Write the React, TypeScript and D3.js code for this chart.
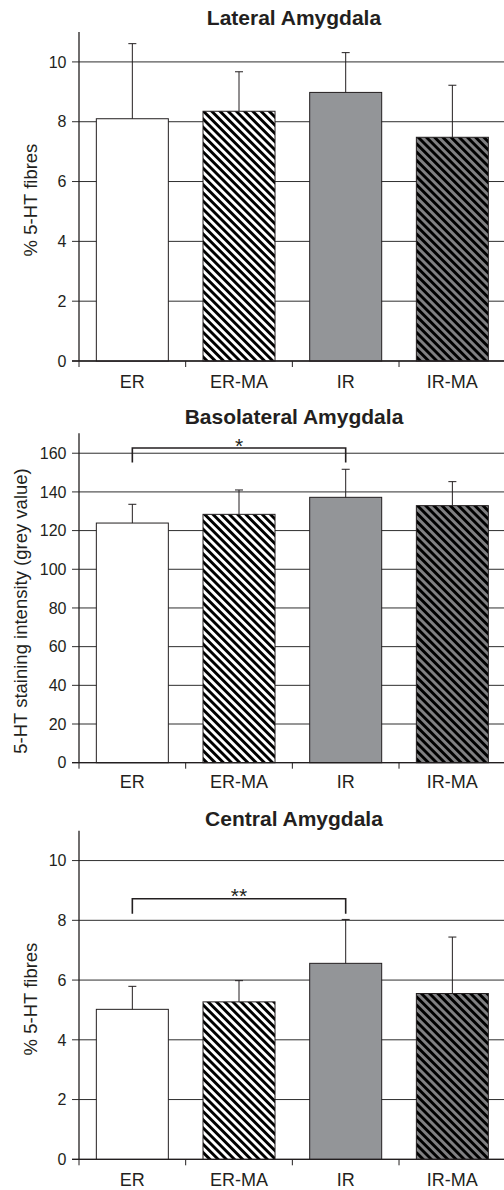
import React from "react";
import * as d3 from "d3";

const categories = ["ER", "ER-MA", "IR", "IR-MA"];

const lateralMeans = [8.1, 8.35, 8.98, 7.48];
const lateralErrTops = [10.61, 9.67, 10.31, 9.22];

const basolateralMeans = [123.9, 128.4, 137.2, 132.9];
const basolateralErrTops = [133.6, 141.0, 151.7, 145.3];

const centralMeans = [5.02, 5.27, 6.56, 5.55];
const centralErrTops = [5.79, 5.98, 8.03, 7.44];

const fibreTicks = [0, 2, 4, 6, 8, 10];
const intensityTicks = [0, 20, 40, 60, 80, 100, 120, 140, 160];

// significance brackets
const basolateralBracket = { from: 0, to: 2, top: 162.7, leg: 155.2, label: "*" };
const centralBracket = { from: 0, to: 2, top: 8.72, leg: 8.22, label: "**" };

const INK = "#231f20";
const GRID = "#2e2e2e";
const FONT = "'Liberation Sans', Arial, Helvetica, sans-serif";

const fills = ["#ffffff", "url(#hatchBW)", "#939598", "url(#hatchGray)"];

type Bracket = { from: number; to: number; top: number; leg: number; label: string };

type PanelProps = {
  title: string;
  titleY: number;
  yMax: number;
  yTop: number;
  yZero: number;
  ticks: number[];
  means: number[];
  errTops: number[];
  yLabel: string;
  yLabelX: number;
  yLabelY: number;
  catLabelY: number;
  bracket?: Bracket;
};

const X0 = 79;
const X1 = 505.7;

function Panel(p: PanelProps) {
  const x = d3
    .scaleBand<string>()
    .domain(categories)
    .range([X0, X1])
    .paddingInner(0.325)
    .paddingOuter(0.1625);
  const y = d3.scaleLinear().domain([0, p.yMax]).range([p.yZero, p.yTop]);
  const step = x.step();
  const bw = x.bandwidth();
  const cx = (c: string) => (x(c) as number) + bw / 2;
  const boundaries = d3.range(categories.length + 1).map((i) => X0 + i * step);

  return (
    <g>
      <text
        x={294}
        y={p.titleY}
        textAnchor="middle"
        fontFamily={FONT}
        fontWeight="bold"
        fontSize={21}
        fill={INK}
      >
        {p.title}
      </text>
      {p.ticks.map((t) => (
        <g key={t}>
          <line x1={72} x2={X1} y1={y(t)} y2={y(t)} stroke={GRID} strokeWidth={1} />
          <text
            x={66.5}
            y={y(t)}
            dy="0.36em"
            textAnchor="end"
            fontFamily={FONT}
            fontSize={16}
            fill={INK}
          >
            {t}
          </text>
        </g>
      ))}
      <line x1={X0} x2={X0} y1={p.yTop} y2={p.yZero} stroke={INK} strokeWidth={1.3} />
      {categories.map((c, i) => (
        <rect
          key={c}
          x={x(c)}
          y={y(p.means[i])}
          width={bw}
          height={y(0) - y(p.means[i])}
          fill={fills[i]}
          stroke={INK}
          strokeWidth={1}
        />
      ))}
      {categories.map((c, i) => (
        <g key={c + "e"} stroke={INK} strokeWidth={1}>
          <line x1={cx(c)} x2={cx(c)} y1={y(p.means[i])} y2={y(p.errTops[i])} />
          <line x1={cx(c) - 4} x2={cx(c) + 4} y1={y(p.errTops[i])} y2={y(p.errTops[i])} />
        </g>
      ))}
      <line x1={72} x2={X1} y1={p.yZero} y2={p.yZero} stroke={INK} strokeWidth={1.3} />
      {boundaries.map((b, i) => (
        <line key={i} x1={b} x2={b} y1={p.yZero} y2={p.yZero + 6} stroke={INK} strokeWidth={1} />
      ))}
      {categories.map((c) => (
        <text
          key={c + "l"}
          x={cx(c)}
          y={p.catLabelY}
          textAnchor="middle"
          fontFamily={FONT}
          fontSize={18}
          fill={INK}
        >
          {c}
        </text>
      ))}
      <text
        transform={`translate(${p.yLabelX},${p.yLabelY}) rotate(-90)`}
        textAnchor="middle"
        dy="0.36em"
        fontFamily={FONT}
        fontSize={18.5}
        fill={INK}
      >
        {p.yLabel}
      </text>
      {p.bracket && (
        <g>
          <path
            d={`M${cx(categories[p.bracket.from])},${y(p.bracket.leg)}V${y(p.bracket.top)}H${cx(
              categories[p.bracket.to]
            )}V${y(p.bracket.leg)}`}
            fill="none"
            stroke={INK}
            strokeWidth={1.6}
          />
          <text
            x={(cx(categories[p.bracket.from]) + cx(categories[p.bracket.to])) / 2}
            y={y(p.bracket.top) + 4.5}
            textAnchor="middle"
            fontFamily={FONT}
            fontSize={21}
            fill={INK}
          >
            {p.bracket.label}
          </text>
        </g>
      )}
    </g>
  );
}

export default function App() {
  return (
    <svg
      width={504}
      height={1190}
      style={{ position: "absolute", left: 0, top: 0, background: "#fff" }}
    >
      <defs>
        <pattern
          id="hatchBW"
          patternUnits="userSpaceOnUse"
          width={5.8}
          height={5.8}
          patternTransform="rotate(-45)"
        >
          <rect width={5.8} height={5.8} fill="#fff" />
          <rect width={2.9} height={5.8} fill="#000" />
        </pattern>
        <pattern
          id="hatchGray"
          patternUnits="userSpaceOnUse"
          width={5.8}
          height={5.8}
          patternTransform="rotate(-45)"
        >
          <rect width={5.8} height={5.8} fill="#808082" />
          <rect width={2.9} height={5.8} fill="#000" />
        </pattern>
      </defs>
      <rect width={504} height={1190} fill="#fff" />
      <Panel
        title="Lateral Amygdala"
        titleY={25}
        yMax={11}
        yTop={32}
        yZero={361}
        ticks={fibreTicks}
        means={lateralMeans}
        errTops={lateralErrTops}
        yLabel="% 5-HT fibres"
        yLabelX={30}
        yLabelY={200}
        catLabelY={388}
      />
      <Panel
        title="Basolateral Amygdala"
        titleY={424}
        yMax={170.3}
        yTop={433.3}
        yZero={762.7}
        ticks={intensityTicks}
        means={basolateralMeans}
        errTops={basolateralErrTops}
        yLabel="5-HT staining intensity (grey value)"
        yLabelX={20}
        yLabelY={611}
        catLabelY={788}
        bracket={basolateralBracket}
      />
      <Panel
        title="Central Amygdala"
        titleY={826}
        yMax={11}
        yTop={830.7}
        yZero={1159.3}
        ticks={fibreTicks}
        means={centralMeans}
        errTops={centralErrTops}
        yLabel="% 5-HT fibres"
        yLabelX={30}
        yLabelY={999}
        catLabelY={1186}
        bracket={centralBracket}
      />
    </svg>
  );
}
